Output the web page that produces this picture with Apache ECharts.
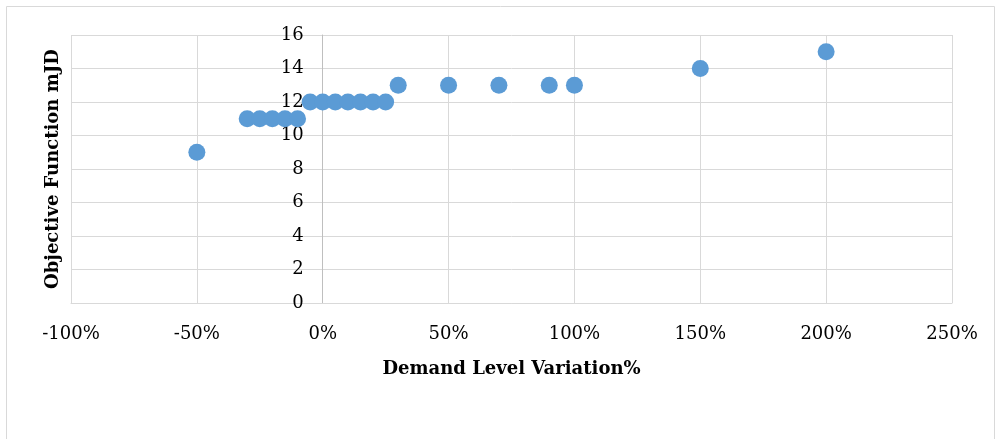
<!DOCTYPE html>
<html><head><meta charset="utf-8">
<script src="https://cdn.jsdelivr.net/npm/echarts@6/dist/echarts.min.js"></script>
<style>html,body{margin:0;padding:0;background:#fff}#c{width:1000px;height:439px}</style>
</head><body><div id="c"></div>
<script>
const demandVariation = [-50, -30, -25, -20, -15, -10, -5, 0, 5, 10, 15, 20, 25, 30, 50, 70, 90, 100, 150, 200];
const objectiveValues = [9, 11, 11, 11, 11, 11, 12, 12, 12, 12, 12, 12, 12, 13, 13, 13, 13, 13, 14, 15];
const xTicks = [-100, -50, 0, 50, 100, 150, 200, 250];
const yTicks = [0, 2, 4, 6, 8, 10, 12, 14, 16];

const chart = echarts.init(document.getElementById('c'), null, {renderer: 'canvas'});
const font = 'DejaVu Serif';
const gridLeft = 71;
const option = {
  animation: false,
  grid: {left: gridLeft, right: 48, top: 35, bottom: 136},
  graphic: [
    {type: 'rect', shape: {x: 6.5, y: 6.5, width: 988, height: 450}, style: {fill: 'none', stroke: '#d9d9d9', lineWidth: 1}, silent: true},
    {type: 'text', x: 53, y: 169, rotation: Math.PI / 2, style: {text: 'Objective Function mJD', font: 'bold 18px "DejaVu Serif"', fill: '#000', align: 'center', verticalAlign: 'middle'}}
  ],
  xAxis: {
    type: 'value', min: xTicks[0], max: xTicks[xTicks.length - 1], interval: 50,
    name: 'Demand Level Variation%', nameLocation: 'middle', nameGap: 57,
    nameTextStyle: {fontFamily: font, fontWeight: 'bold', fontSize: 18, color: '#000'},
    axisLine: {show: true, onZero: false, lineStyle: {color: '#d9d9d9', width: 1}},
    axisTick: {show: false},
    axisLabel: {formatter: v => v + '%', fontFamily: font, fontSize: 18, color: '#000', margin: 22},
    splitLine: {show: true, lineStyle: {color: '#d9d9d9', width: 1}}
  },
  yAxis: {
    type: 'value', min: yTicks[0], max: yTicks[yTicks.length - 1], interval: 2,
    position: 'left', offset: 0,
    axisLine: {show: true, onZero: false, lineStyle: {color: '#bfbfbf', width: 1}},
    axisTick: {show: false},
    axisLabel: {fontFamily: font, fontSize: 18, color: '#000', margin: 19},
    splitLine: {show: true, lineStyle: {color: '#d9d9d9', width: 1}}
  },
  series: [{
    type: 'scatter',
    data: demandVariation.map((x, i) => [x, objectiveValues[i]]),
    symbol: 'circle', symbolSize: 17,
    itemStyle: {color: '#5b9bd5', opacity: 1}
  }]
};
chart.setOption(option);
const zeroX = chart.convertToPixel({xAxisIndex: 0}, 0);
chart.setOption({yAxis: {offset: gridLeft - zeroX}});
</script></body></html>
